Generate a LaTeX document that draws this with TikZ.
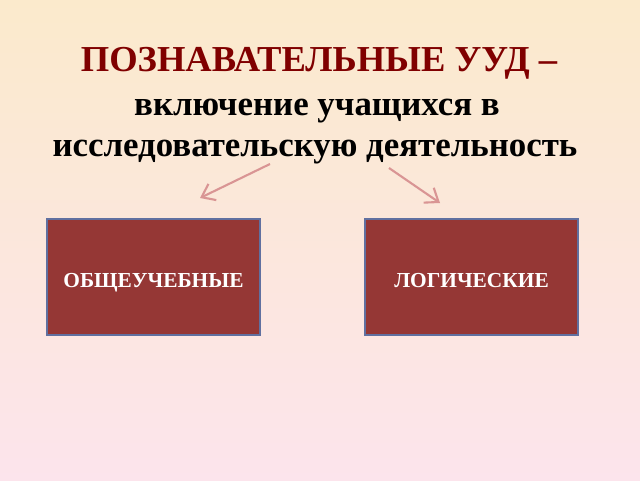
\documentclass[tikz,border=0pt]{standalone}
\usepackage{fontspec}
\setmainfont{Liberation Serif}
\usepackage{tikz}
\usetikzlibrary{arrows.meta}

\definecolor{bgtop}{RGB}{251,234,204}
\definecolor{bgbottom}{RGB}{252,228,236}
\definecolor{titlered}{RGB}{128,0,0}
\definecolor{boxred}{RGB}{149,55,53}
\definecolor{boxline}{RGB}{96,112,160}
\definecolor{arrowpink}{RGB}{217,149,148}

\begin{document}
\begin{tikzpicture}[
    titleline/.style={anchor=base,font=\fontsize{24.8}{28}\selectfont\bfseries},
    uudbox/.style={draw=boxline,line width=1.4pt,fill=boxred,text=white,
      minimum width=5.325cm,minimum height=2.9cm,text height=0.5cm,text depth=0pt,
      font=\fontsize{15.2}{17}\selectfont\bfseries},
    pointer/.style={arrowpink,line width=1.5pt,-{Straight Barb[length=3mm,width=4.5mm]}}
  ]
    \shade[top color=bgtop,bottom color=bgbottom] (0,0) rectangle (16,12);

    \node[titleline,text=titlered,font=\fontsize{26}{30}\selectfont\bfseries] (head) at (7.975,10.2) {ПОЗНАВАТЕЛЬНЫЕ УУД –};
    \node[titleline] (sub1) at (7.925,9.1) {включение учащихся в};
    \node[titleline] (sub2) at (7.875,8.1) {исследовательскую деятельность};

    \node[uudbox] (general) at (3.8375,5.075) {ОБЩЕУЧЕБНЫЕ};
    \node[uudbox] (logical) at (11.7875,5.075) {ЛОГИЧЕСКИЕ};

    \coordinate (fromL) at (6.75,7.9);
    \coordinate (toL) at (5.0,7.05);
    \coordinate (fromR) at (9.725,7.8);
    \coordinate (toR) at (11.0,6.925);
    \draw[pointer] (fromL) -- (toL);
    \draw[pointer] (fromR) -- (toR);
  \end{tikzpicture}
\end{document}
